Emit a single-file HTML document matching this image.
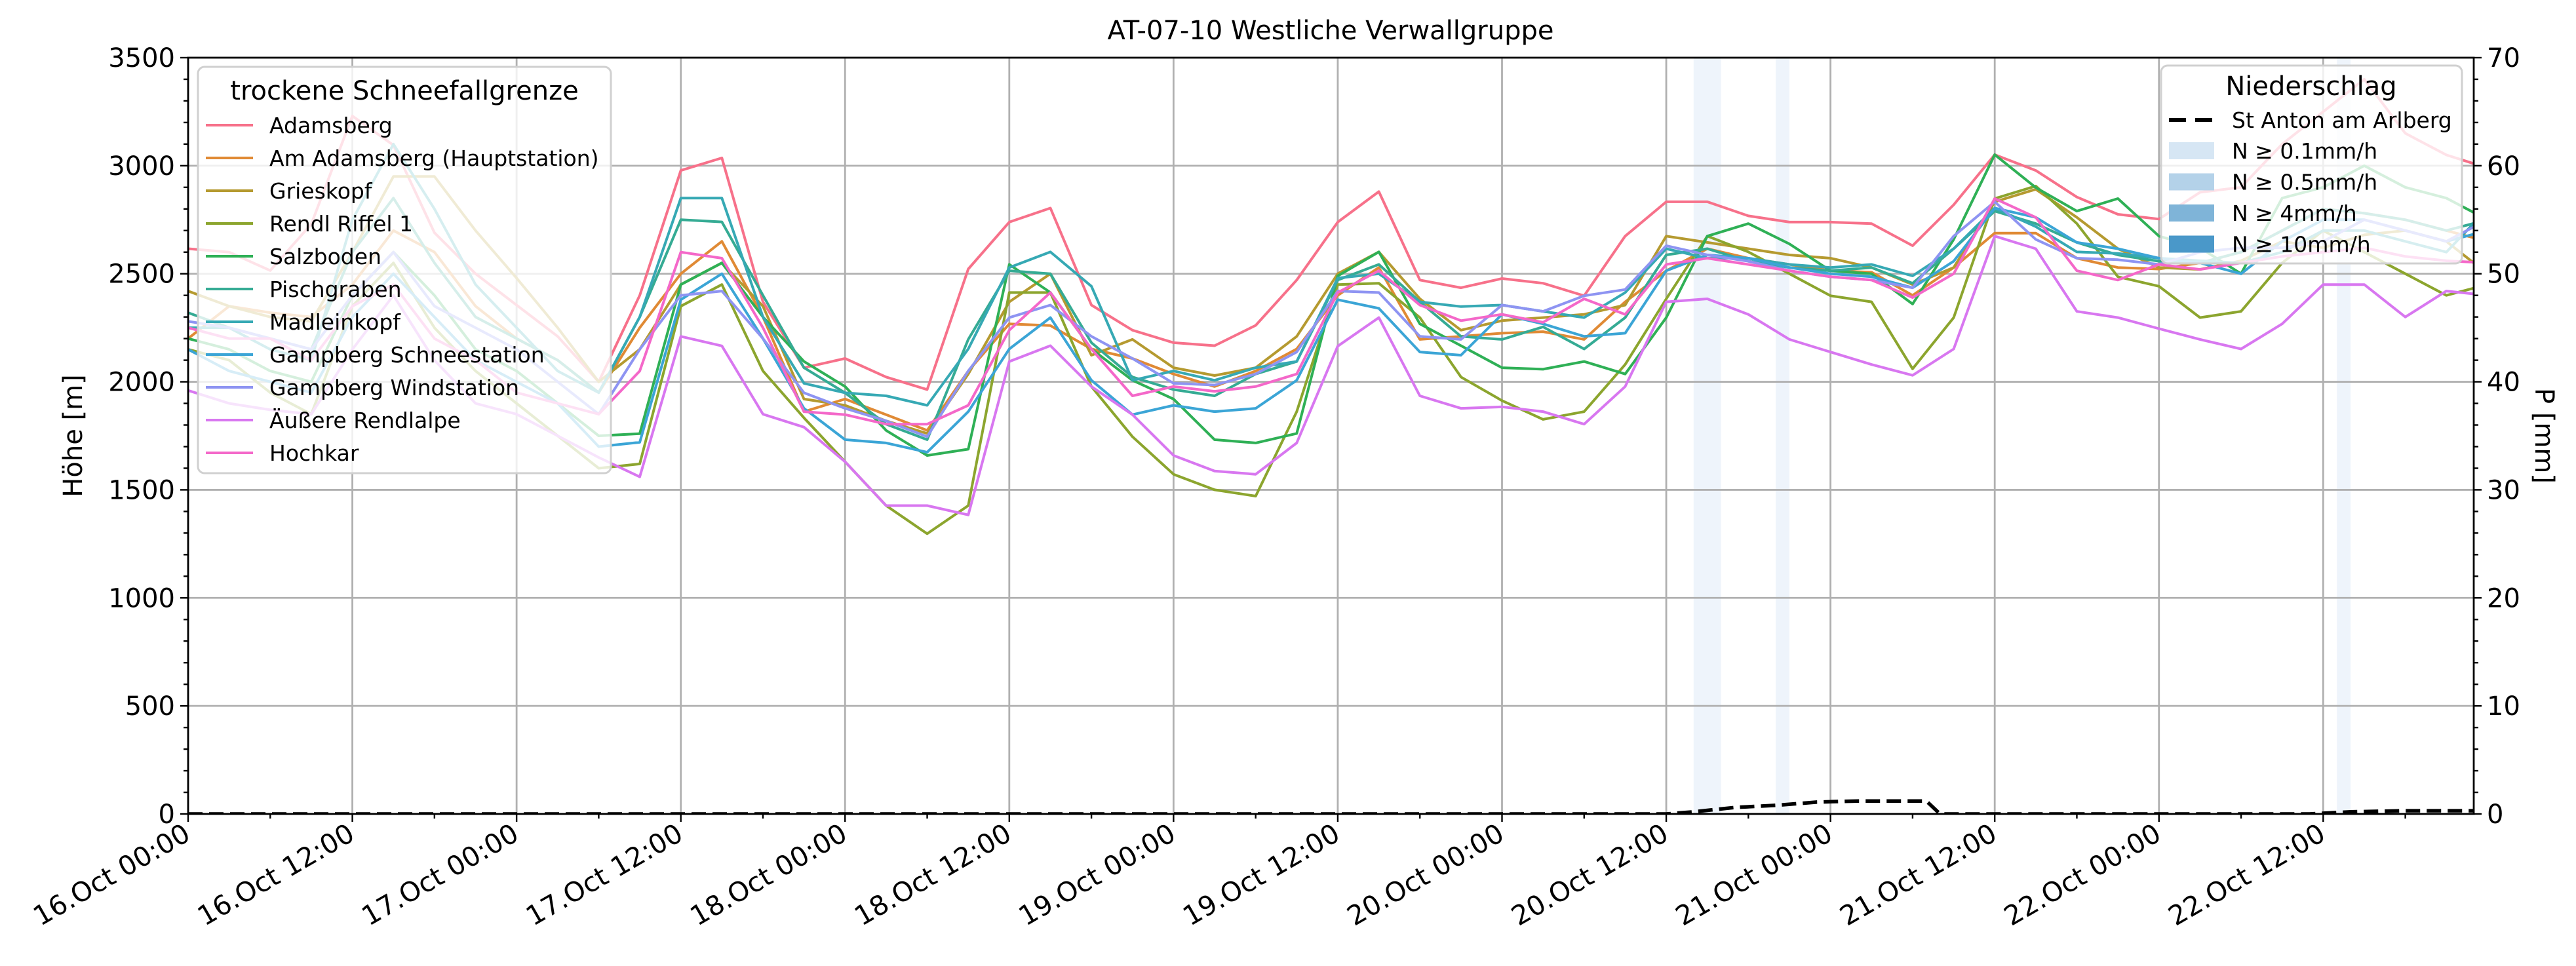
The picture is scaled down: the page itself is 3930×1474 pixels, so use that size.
<!DOCTYPE html>
<html><head><meta charset="utf-8">
<style>
html,body{margin:0;padding:0;background:#fff;}
svg{display:block;font-family:"DejaVu Sans","Liberation Sans",sans-serif;}
</style></head>
<body>
<svg id="chart" xmlns="http://www.w3.org/2000/svg" width="3930" height="1474" viewBox="0 0 3930 1474">
<rect width="3930" height="1474" fill="#fff"/>
<defs><clipPath id="plotclip"><rect x="287" y="88" width="3487" height="1154"/></clipPath></defs>
<text x="2030" y="60" font-size="40" text-anchor="middle">AT-07-10 Westliche Verwallgruppe</text>
<g id="bands" clip-path="url(#plotclip)"></g>
<g id="grid"></g>
<g id="lines" clip-path="url(#plotclip)"></g>
<g id="axes"></g>
<g id="legends"></g>
<text transform="translate(125,665) rotate(-90)" font-size="40" text-anchor="middle">Höhe [m]</text>
<text transform="translate(3868,665) rotate(90)" font-size="40" text-anchor="middle">P [mm]</text>
</svg>
<script>
// ---- data (values every 3 hours starting 16.Oct 00:00) ----
const stepHours = 3;
const seriesNames = ["Adamsberg","Am Adamsberg (Hauptstation)","Grieskopf","Rendl Riffel 1","Salzboden","Pischgraben","Madleinkopf","Gampberg Schneestation","Gampberg Windstation","Äußere Rendlalpe","Hochkar"];
const seriesColors = ["#f7718a","#e08a35","#b59a30","#8ca52e","#2fb056","#35ab94","#36a9b4","#3ba5d6","#8e94f2","#d877f0","#f468c9"];
const adamsberg = [2616,2600,2515,2730,3230,3095,2690,2500,2355,2210,2000,2400,2978,3036,2370,2065,2108,2022,1964,2522,2739,2804,2355,2239,2181,2167,2261,2471,2739,2880,2471,2435,2478,2456,2398,2674,2833,2833,2768,2739,2739,2732,2630,2819,3051,2978,2855,2775,2753,2877,2900,3100,3250,3400,3150,3050,2990];
const amAdamsberg = [2200,2350,2320,2300,2450,2700,2600,2350,2200,2100,1950,2250,2500,2650,2300,1862,1920,1848,1775,2050,2268,2260,2152,2108,2036,1978,2050,2152,2400,2529,2196,2210,2225,2232,2196,2370,2514,2616,2572,2543,2514,2507,2400,2529,2688,2688,2572,2529,2522,2550,2600,2700,2800,2780,2750,2700,2650];
const grieskopf = [2420,2350,2300,2280,2600,2950,2950,2700,2480,2250,2000,2150,2450,2550,2350,1920,1891,1819,1761,2036,2370,2500,2123,2196,2065,2029,2065,2210,2500,2601,2384,2239,2283,2297,2312,2355,2674,2645,2616,2587,2572,2529,2450,2529,2833,2891,2761,2616,2529,2520,2560,2650,2620,2680,2700,2650,2500];
const rendlRiffel = [2150,2100,1950,1850,2350,2550,2250,2050,1900,1750,1600,1620,2350,2450,2050,1833,1630,1427,1297,1427,2413,2413,1978,1746,1572,1500,1471,1862,2450,2456,2297,2022,1913,1826,1862,2080,2384,2674,2601,2500,2398,2370,2060,2297,2848,2906,2732,2486,2442,2297,2326,2550,2700,2600,2500,2400,2450];
const salzboden = [2200,2150,2050,2000,2400,2600,2400,2150,2050,1900,1750,1760,2450,2550,2300,2094,1978,1775,1659,1688,2543,2413,2152,2007,1920,1732,1717,1761,2490,2601,2268,2167,2065,2058,2094,2036,2297,2674,2732,2638,2514,2500,2360,2659,3051,2899,2790,2848,2674,2620,2500,2850,2900,3000,2900,2850,2750];
const pischgraben = [2320,2250,2200,2150,2600,2850,2550,2300,2200,2100,1950,2300,2750,2740,2400,2065,1949,1804,1732,2196,2514,2500,2181,2022,1964,1935,2036,2094,2471,2543,2370,2210,2196,2254,2152,2297,2587,2616,2558,2529,2514,2529,2456,2616,2790,2732,2645,2587,2558,2550,2600,2700,2800,2780,2750,2700,2750];
const madleinkopf = [2250,2250,2150,2100,2750,3100,2800,2450,2250,2050,1950,2300,2850,2850,2300,1993,1949,1935,1891,2152,2529,2601,2442,2007,2050,2007,2065,2094,2480,2500,2370,2348,2355,2326,2297,2413,2616,2572,2572,2543,2529,2543,2490,2616,2804,2718,2601,2594,2572,2560,2550,2600,2700,2700,2650,2600,2800];
const gampbergSchnee = [2150,2050,2000,1950,2300,2500,2300,2100,2000,1900,1700,1720,2380,2500,2200,1877,1732,1717,1674,1862,2152,2297,2007,1848,1891,1862,1877,2007,2380,2340,2138,2123,2312,2268,2210,2225,2514,2587,2572,2529,2500,2486,2435,2558,2804,2761,2645,2616,2572,2550,2500,2650,2750,2750,2700,2650,2700];
const gampbergWind = [2280,2250,2200,2150,2400,2600,2350,2250,2150,2000,1850,2150,2400,2420,2200,1949,1877,1819,1746,2050,2297,2355,2210,2108,1993,1985,2036,2138,2420,2413,2210,2196,2355,2326,2398,2427,2630,2587,2558,2514,2486,2471,2435,2674,2833,2659,2572,2565,2543,2600,2620,2620,2650,2750,2700,2650,2750];
const aeussereRendlalpe = [1960,1900,1870,1850,2150,2400,2100,1900,1850,1750,1650,1560,2210,2166,1850,1790,1630,1427,1427,1384,2094,2167,1978,1848,1659,1587,1572,1717,2165,2297,1935,1877,1884,1862,1804,1978,2370,2384,2312,2196,2138,2080,2030,2152,2674,2616,2326,2297,2246,2196,2152,2268,2450,2450,2300,2420,2400];
const hochkar = [2250,2200,2200,2100,2350,2450,2200,2100,1950,1900,1850,2050,2600,2572,2250,1862,1848,1804,1804,1891,2239,2413,2152,1935,1978,1956,1978,2036,2413,2514,2355,2283,2312,2275,2384,2312,2543,2572,2543,2514,2486,2471,2390,2500,2848,2761,2514,2471,2543,2520,2550,2580,2600,2620,2580,2560,2550];
const seriesValues = [adamsberg,amAdamsberg,grieskopf,rendlRiffel,salzboden,pischgraben,madleinkopf,gampbergSchnee,gampbergWind,aeussereRendlalpe,hochkar];
const precipHours = [0,108,110,113,116,119,122,125,127,128,155,158,162,167];
const precipValues = [0,0,0.2,0.6,0.8,1.1,1.2,1.2,1.2,0,0,0.2,0.3,0.3];
const bandStart = [110,116,157];
const bandEnd = [112,117,158];
const xTickLabels = ["16.Oct 00:00","16.Oct 12:00","17.Oct 00:00","17.Oct 12:00","18.Oct 00:00","18.Oct 12:00","19.Oct 00:00","19.Oct 12:00","20.Oct 00:00","20.Oct 12:00","21.Oct 00:00","21.Oct 12:00","22.Oct 00:00","22.Oct 12:00"];
const yTicks = [0,500,1000,1500,2000,2500,3000,3500];
const y2Ticks = [0,10,20,30,40,50,60,70];

// ---- scales ----
const X0=287, X1=3774, Y0=88, Y1=1242, HMAX=167;
const xS = h => X0 + h/HMAX*(X1-X0);
const yL = v => Y1 - v/3500*(Y1-Y0);
const yR = p => Y1 - p/70*(Y1-Y0);
const NS="http://www.w3.org/2000/svg";
function mk(tag, attrs, parent){const e=document.createElementNS(NS,tag);for(const k in attrs)e.setAttribute(k,attrs[k]);parent.appendChild(e);return e;}

// bands
const gb=document.getElementById('bands');
bandStart.forEach((s,i)=>{
  const r=mk('rect',{x:xS(s),y:Y0,width:xS(bandEnd[i])-xS(s),height:Y1-Y0,fill:'#eef4fb'},gb);
  
  
});

// grid
const gg=document.getElementById('grid');
xTickLabels.forEach((t,i)=>{
  const l=mk('line',{x1:xS(i*12),x2:xS(i*12),y1:Y0,y2:Y1,stroke:'#b0b0b0','stroke-width':2.8},gg);
  
  
});
yTicks.forEach(v=>{
  const l=mk('line',{x1:X0,x2:X1,y1:yL(v),y2:yL(v),stroke:'#b0b0b0','stroke-width':2.8},gg);
  
  
});

// series lines
const gl=document.getElementById('lines');
seriesValues.forEach((vals,si)=>{
  const d=vals.map((v,i)=>(i?'L':'M')+xS(i*stepHours).toFixed(1)+','+yL(v).toFixed(1)).join('');
  const p=mk('path',{d:d,fill:'none',stroke:seriesColors[si],'stroke-width':4,'stroke-linejoin':'round'},gl);
  
  
});
const pd=precipHours.map((h,i)=>(i?'L':'M')+xS(h).toFixed(1)+','+yR(precipValues[i]).toFixed(1)).join('');
const pl=mk('path',{d:pd,fill:'none',stroke:'#000','stroke-width':5.5,'stroke-dasharray':'22 10'},gl);



// axes
const ga=document.getElementById('axes');
const frame=mk('rect',{x:X0,y:Y0,width:X1-X0,height:Y1-Y0,fill:'none',stroke:'#000','stroke-width':2.8},ga);


for(let v=0;v<=3500;v+=100){
  const major=v%500===0;
  const t=mk('line',{x1:X0,x2:X0-(major?12:7),y1:yL(v),y2:yL(v),stroke:'#000','stroke-width':2.4},ga);
  
  
}
yTicks.forEach(v=>{
  const t=mk('text',{x:X0-20,y:yL(v)+14,'font-size':40,'text-anchor':'end'},ga);
  t.textContent=v;
  
  
});
for(let p=0;p<=70;p+=2){
  const major=p%10===0;
  const t=mk('line',{x1:X1,x2:X1+(major?12:7),y1:yR(p),y2:yR(p),stroke:'#000','stroke-width':2.4},ga);
  
  
}
y2Ticks.forEach(p=>{
  const t=mk('text',{x:X1+20,y:yR(p)+14,'font-size':40,'text-anchor':'start'},ga);
  t.textContent=p;
  
  
});
for(let h=0;h<=HMAX;h+=6){
  const major=h%12===0;
  const t=mk('line',{x1:xS(h),x2:xS(h),y1:Y1,y2:Y1+(major?12:7),stroke:'#000','stroke-width':2.4},ga);
  
  
}
xTickLabels.forEach((lab,i)=>{
  const x=xS(i*12)+6, y=1280;
  const t=mk('text',{x:x,y:y,'font-size':41,'text-anchor':'end',transform:'rotate(-30 '+x+' '+y+')'},ga);
  t.textContent=lab;
  
  
});

// legends
const gL=document.getElementById('legends');
const lb=mk('rect',{x:302,y:102,width:630,height:620,rx:10,fill:'#fff','fill-opacity':0.8,stroke:'#d0d0d0','stroke-width':3},gL);


const lt=mk('text',{x:617,y:152,'font-size':40,'text-anchor':'middle'},gL);
lt.textContent='trockene Schneefallgrenze';


seriesNames.forEach((n,i)=>{
  const y=191+i*50;
  const ln=mk('line',{x1:314,x2:386,y1:y,y2:y,stroke:seriesColors[i],'stroke-width':4},gL);
  
  
  const t=mk('text',{x:411,y:y+12,'font-size':33},gL);
  t.textContent=n;
  
  
});
const rb=mk('rect',{x:3297,y:100,width:459,height:302,rx:10,fill:'#fff','fill-opacity':0.8,stroke:'#d0d0d0','stroke-width':3},gL);


const rt=mk('text',{x:3526,y:145,'font-size':40,'text-anchor':'middle'},gL);
rt.textContent='Niederschlag';


const dl=mk('line',{x1:3309,x2:3378,y1:183,y2:183,stroke:'#000','stroke-width':6,'stroke-dasharray':'26 14'},gL);


const st=mk('text',{x:3405,y:195,'font-size':33},gL);
st.textContent='St Anton am Arlberg';


const patchLabels=['N ≥ 0.1mm/h','N ≥ 0.5mm/h','N ≥ 4mm/h','N ≥ 10mm/h'];
const patchColors=['#d6e6f4','#b4d2e9','#7fb4d8','#4a98c9'];
patchLabels.forEach((lab,i)=>{
  const y=230+i*47.5;
  const r=mk('rect',{x:3309,y:y-13,width:69,height:26,fill:patchColors[i]},gL);
  
  
  const t=mk('text',{x:3405,y:y+12,'font-size':33},gL);
  t.textContent=lab;
  
  
});
</script>
</body></html>
